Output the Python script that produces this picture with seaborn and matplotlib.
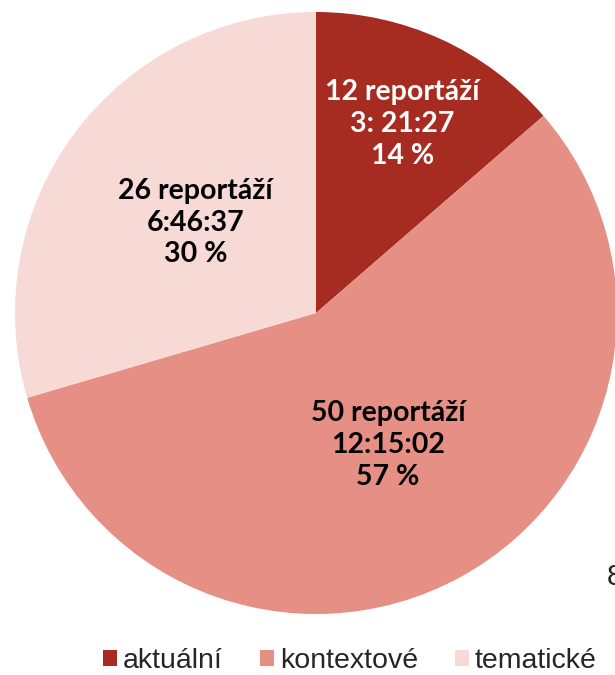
import numpy as np
import seaborn as sns
import matplotlib.pyplot as plt
from matplotlib.patches import Patch

# Data
kategorie = ['aktuální', 'kontextové', 'tematické']
pocty = [12, 50, 26]
casy = ['3: 21:27', '12:15:02', '6:46:37']
procenta = ['14 %', '57 %', '30 %']
barvy = ['#A62B21', '#E68F84', '#F7D9D6']
barvy_textu = ['white', 'black', 'black']
vzdalenost = [0.69, 0.50, 0.50]

sns.set_theme(style="white")
plt.rcParams['font.family'] = ['Liberation Sans', 'DejaVu Sans']

fig = plt.figure(figsize=(6.15, 6.75), dpi=100)
ax = fig.add_axes([15 / 615, 61 / 675, 602 / 615, 602 / 675])

wedges, _ = ax.pie(pocty, colors=barvy, startangle=90, counterclock=False,
                   radius=1, wedgeprops=dict(linewidth=0))
ax.set_xlim(-1, 1)
ax.set_ylim(-1, 1)
ax.set_aspect('equal')
ax.axis('off')

# Popisky uvnitř výsečí
for w, n, c, p, tc, r in zip(wedges, pocty, casy, procenta, barvy_textu, vzdalenost):
    ang = np.deg2rad((w.theta1 + w.theta2) / 2)
    ax.text(r * np.cos(ang), r * np.sin(ang), f'{n} reportáží\n{c}\n{p}',
            ha='center', va='center', color=tc, fontsize=20.5,
            fontweight='bold', family=['Lato', 'DejaVu Sans'], linespacing=1.27)

# Legenda
handles = [Patch(facecolor=b, edgecolor='none') for b in barvy]
fig.legend(handles, kategorie, loc='center', ncol=3, frameon=False,
           bbox_to_anchor=(350 / 615, 1 - 661 / 675), fontsize=20.5,
           handlelength=0.5, handleheight=0.5, handletextpad=0.2,
           columnspacing=1.3)

# useknutý text vpravo
fig.text(607 / 615, 1 - 585 / 675, '88', ha='left', va='baseline', fontsize=21)

plt.savefig('out.png', dpi=100)
